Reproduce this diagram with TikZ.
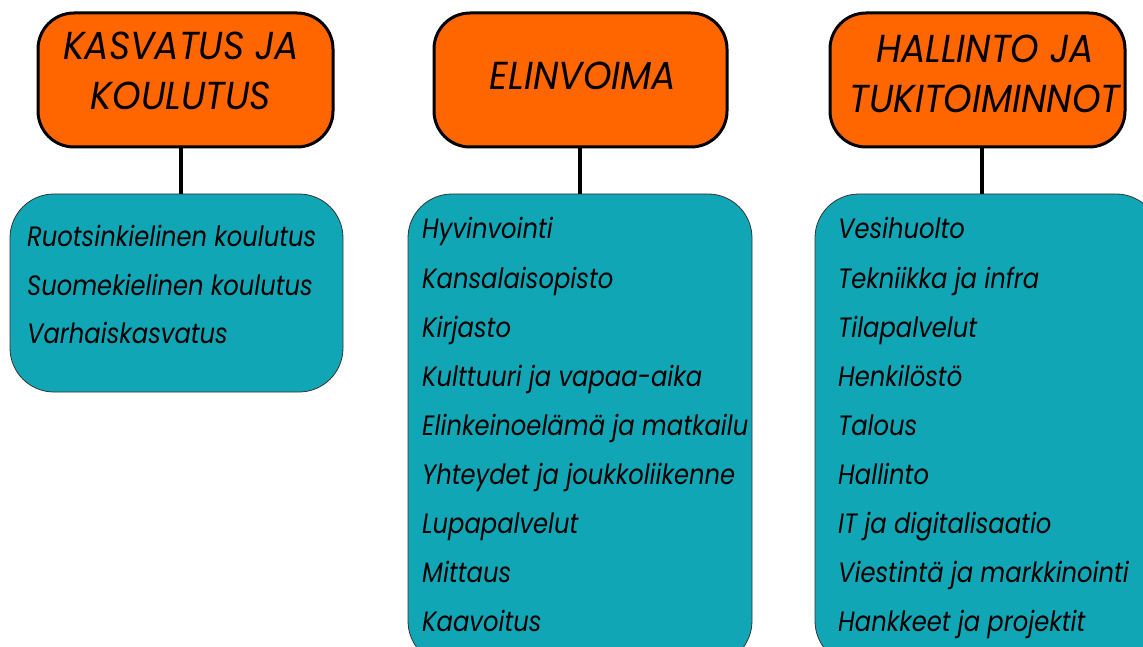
\documentclass[tikz,border=0pt]{standalone}
\usepackage{fontspec}
\setmainfont{Poppins}
\newfontfamily\itemfont{Poppins}[FakeStretch=0.865]
\newfontfamily\headfont{Poppins}[FakeStretch=0.93]
\definecolor{headorange}{RGB}{255,102,0}
\definecolor{listteal}{RGB}{17,166,182}
\tikzset{
  headbox/.style={draw=black, line width=3pt, fill=headorange, rounded corners=36pt, inner sep=0pt},
  listbox/.style={draw=black!80, line width=0.8pt, fill=listteal, rounded corners=44pt, inner sep=0pt},
  headtext/.style={font=\headfont\fontsize{39}{50}\selectfont\itshape, anchor=base, inner sep=0pt},
  itemtext/.style={font=\itemfont\fontsize{28}{32}\selectfont\itshape, anchor=base west, inner sep=0pt},
  link/.style={line width=4pt, black}
}
\begin{document}
\begin{tikzpicture}[x=1pt,y=-1pt]
\useasboundingbox (0,0) rectangle (1143,647);
\clip (0,0) rectangle (1143,647);
% boxes
\node[listbox, minimum width=333pt, minimum height=198pt] (t1) at (176.5,293) {};
\node[listbox, minimum width=344pt, minimum height=471pt] (t2) at (580,429.5) {};
\node[listbox, minimum width=345pt, minimum height=471pt] (t3) at (987.5,429.5) {};
\node[headbox, minimum width=295pt, minimum height=134pt] (o1) at (185.5,80) {};
\node[headbox, minimum width=293pt, minimum height=134pt] (o2) at (580.5,80) {};
\node[headbox, minimum width=295pt, minimum height=134pt] (o3) at (977.5,80) {};
% connectors
\draw[link] ([xshift=-5pt]o1.south) -- ([xshift=-5pt]o1.south |- t1.north);
\draw[link] ([xshift=-1pt]o2.south) -- ([xshift=-1pt]o2.south |- t2.north);
\draw[link] ([xshift=4.5pt]o3.south) -- ([xshift=4.5pt]o3.south |- t3.north);
% titles
\node[headtext] (h1a) at (181,60) {KASVATUS JA};
\node[headtext] (h1b) at (181,110) {KOULUTUS};
\node[headtext] (h2) at (583,90) {ELINVOIMA};
\node[headtext] (h3a) at (985,63) {HALLINTO JA};
\node[headtext] (h3b) at (985,113) {TUKITOIMINNOT};
% list 1
\node[itemtext] (a1) at (27,247) {Ruotsinkielinen koulutus};
\node[itemtext] (a2) at (27,295) {Suomekielinen koulutus};
\node[itemtext] (a3) at (27,343) {Varhaiskasvatus};
% list 2
\node[itemtext] (b1) at (422,239) {Hyvinvointi};
\node[itemtext] (b2) at (422,288.1) {Kansalaisopisto};
\node[itemtext] (b3) at (422,337.2) {Kirjasto};
\node[itemtext] (b4) at (422,386.3) {Kulttuuri ja vapaa-aika};
\node[itemtext] (b5) at (422,435.4) {Elinkeinoelämä ja matkailu};
\node[itemtext] (b6) at (422,484.5) {Yhteydet ja joukkoliikenne};
\node[itemtext] (b7) at (422,533.6) {Lupapalvelut};
\node[itemtext] (b8) at (422,582.7) {Mittaus};
\node[itemtext] (b9) at (422,631.8) {Kaavoitus};
% list 3
\node[itemtext] (c1) at (838,239) {Vesihuolto};
\node[itemtext] (c2) at (838,288.1) {Tekniikka ja infra};
\node[itemtext] (c3) at (838,337.2) {Tilapalvelut};
\node[itemtext] (c4) at (838,386.3) {Henkilöstö};
\node[itemtext] (c5) at (838,435.4) {Talous};
\node[itemtext] (c6) at (838,484.5) {Hallinto};
\node[itemtext] (c7) at (838,533.6) {IT ja digitalisaatio};
\node[itemtext] (c8) at (838,582.7) {Viestintä ja markkinointi};
\node[itemtext] (c9) at (838,631.8) {Hankkeet ja projektit};
\end{tikzpicture}
\end{document}
